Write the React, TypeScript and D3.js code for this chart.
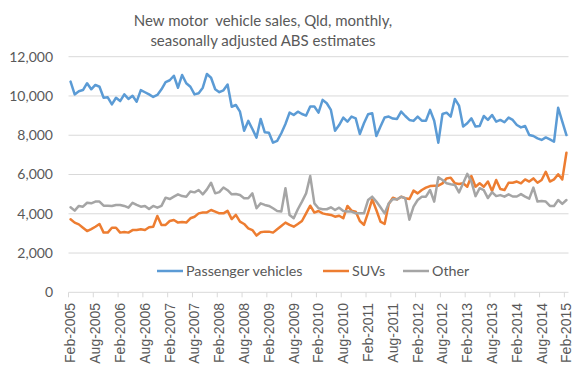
import React, { useRef, useEffect } from "react";
import * as d3 from "d3";

// monthly, Feb-2005 .. Feb-2015 (121 months)
const passenger = [
  10730, 10080, 10240, 10300, 10650, 10340, 10560, 10470, 9910, 9930, 9570, 9910,
  9740, 10080, 9850, 10010, 9710, 10300, 10190, 10080, 9950, 10050, 10340, 10710,
  10800, 11030, 10420, 11070, 10650, 10470, 10080, 10140, 10420, 11120, 10930, 10340,
  10190, 10290, 10580, 9450, 9540, 9200, 8230, 8730, 8320, 7880, 8830, 8150,
  8130, 7620, 7710, 8100, 8570, 9150, 9030, 9200, 9080, 9000, 9460, 9460,
  9150, 9800, 9630, 9290, 8230, 8520, 8900, 8690, 8950, 8860, 8060, 8610,
  9070, 9120, 7960, 8440, 8900, 8950, 8850, 8830, 9200, 8980, 8780, 8730,
  8950, 8740, 8740, 9290, 8740, 7620, 9080, 9150, 8950, 9850, 9510, 8440,
  8610, 8860, 8440, 8470, 8980, 8780, 9030, 8690, 8780, 8660, 8900, 8780,
  8520, 8400, 8470, 8010, 7960, 7840, 7760, 7890, 7790, 7670, 9400, 8690,
  8010,
];

const suvs = [
  3720, 3550, 3460, 3290, 3120, 3220, 3340, 3480, 3040, 3040, 3290, 3290,
  3040, 3070, 3040, 3170, 3170, 3210, 3170, 3310, 3340, 3890, 3430, 3430,
  3630, 3680, 3550, 3580, 3550, 3770, 3850, 4020, 4060, 4070, 4190, 4110,
  4020, 4020, 4150, 3730, 3940, 3600, 3480, 3260, 3170, 2890, 3060, 3090,
  3090, 3040, 3210, 3380, 3550, 3430, 3340, 3480, 3630, 4020, 4410, 4060,
  4140, 4020, 3970, 3940, 3850, 3900, 3770, 4400, 4160, 4110, 3630, 3430,
  4060, 4730, 4190, 3600, 3480, 4500, 4820, 4730, 4870, 4790, 4750, 5180,
  5040, 5210, 5330, 5410, 5430, 5430, 5550, 5800, 5840, 5550, 5520, 5550,
  5380, 5920, 5380, 5550, 5380, 5640, 5160, 5720, 5260, 5210, 5580, 5580,
  5640, 5550, 5750, 5640, 5800, 5580, 5720, 6140, 5640, 5750, 6010, 5750,
  7110,
];

const other = [
  4330, 4160, 4400, 4360, 4560, 4530, 4620, 4620, 4410, 4410, 4400, 4450,
  4450, 4400, 4310, 4560, 4450, 4360, 4400, 4240, 4400, 4310, 4400, 4820,
  4750, 4870, 4990, 4900, 4870, 5130, 5090, 5210, 4990, 5240, 5580, 5040,
  5100, 5340, 5200, 4990, 5010, 4960, 4790, 4790, 5040, 4280, 4530, 4450,
  4400, 4280, 4140, 4110, 5300, 3940, 3770, 4230, 4620, 5040, 5920, 4530,
  4280, 4230, 4230, 4330, 4190, 4310, 4140, 4110, 4110, 4020, 4020, 4020,
  4700, 4870, 4620, 4330, 4020, 4530, 4750, 4730, 4870, 4780, 3700, 4360,
  4700, 4870, 4870, 5210, 4620, 5860, 5720, 5550, 5500, 5470, 5090, 5550,
  6030, 5640, 4900, 5300, 5200, 4800, 5100, 4900, 4950, 4870, 4990, 4880,
  4880, 5000, 4870, 4770, 5330, 4620, 4650, 4620, 4400, 4400, 4700, 4500,
  4700,
];

const tickLabels = [
  "Feb-2005", "Aug-2005", "Feb-2006", "Aug-2006", "Feb-2007", "Aug-2007",
  "Feb-2008", "Aug-2008", "Feb-2009", "Aug-2009", "Feb-2010", "Aug-2010",
  "Feb-2011", "Aug-2011", "Feb-2012", "Aug-2012", "Feb-2013", "Aug-2013",
  "Feb-2014", "Aug-2014", "Feb-2015",
];

const yTicks = [0, 2000, 4000, 6000, 8000, 10000, 12000];

const seriesNames = ["Passenger vehicles", "SUVs", "Other"];
const seriesColors = ["#5B9BD5", "#ED7D31", "#A5A5A5"];

const titleLines = ["New motor  vehicle sales, Qld, monthly,", "seasonally adjusted ABS estimates"];

export default function App() {
  const ref = useRef<SVGSVGElement>(null);
  const width = 582;
  const height = 370;

  useEffect(() => {
    const svg = d3.select(ref.current);
    svg.selectAll("*").remove();

    const left = 68.5, right = 568.5, top = 56.7, bottom = 292.3;
    const textColor = "#595959";
    const gridColor = "#D9D9D9";
    const calibriLike = "Lato, 'Open Sans', sans-serif";

    const x = d3.scaleBand<number>()
      .domain(d3.range(passenger.length))
      .range([left, right]);
    const cx = (i: number) => (x(i) as number) + x.bandwidth() / 2;

    const y = d3.scaleLinear()
      .domain([0, 12000])
      .range([bottom, top]);

    svg.append("rect")
      .attr("width", width)
      .attr("height", height)
      .attr("fill", "white");

    // title
    svg.append("g")
      .selectAll("text")
      .data(titleLines)
      .enter().append("text")
      .attr("x", 263)
      .attr("y", (d, i) => 26 + i * 19.5)
      .attr("text-anchor", "middle")
      .attr("font-family", calibriLike)
      .attr("font-size", 15)
      .attr("fill", textColor)
      .style("white-space", "pre")
      .text(d => d);

    // gridlines
    svg.append("g")
      .selectAll("line")
      .data(yTicks.filter(d => d > 0))
      .enter().append("line")
      .attr("x1", left)
      .attr("x2", right)
      .attr("y1", d => y(d))
      .attr("y2", d => y(d))
      .attr("stroke", gridColor)
      .attr("stroke-width", 1);

    // y labels
    svg.append("g")
      .selectAll("text")
      .data(yTicks)
      .enter().append("text")
      .attr("x", 53)
      .attr("y", d => y(d))
      .attr("dy", "0.35em")
      .attr("text-anchor", "end")
      .attr("font-family", calibriLike)
      .attr("font-size", 14)
      .attr("fill", textColor)
      .text(d => d3.format(",")(d));

    // x axis line + ticks between categories
    const xAxis = svg.append("g");
    xAxis.append("line")
      .attr("x1", left)
      .attr("x2", right)
      .attr("y1", y(0))
      .attr("y2", y(0))
      .attr("stroke", gridColor)
      .attr("stroke-width", 1);

    const tickIdx = tickLabels.map((d, i) => i * 6);
    xAxis.selectAll("line.tick")
      .data(tickIdx)
      .enter().append("line")
      .attr("class", "tick")
      .attr("x1", d => x(d) as number)
      .attr("x2", d => x(d) as number)
      .attr("y1", y(0))
      .attr("y2", y(0) + 5)
      .attr("stroke", gridColor);

    xAxis.selectAll("text")
      .data(tickLabels)
      .enter().append("text")
      .attr("transform", (d, i) => `translate(${cx(i * 6)}, 303) rotate(-90)`)
      .attr("dy", "0.35em")
      .attr("text-anchor", "end")
      .attr("font-family", "'Liberation Sans', Arial, sans-serif")
      .attr("font-size", 14)
      .attr("fill", textColor)
      .text(d => d);

    // lines
    const line = d3.line<number>()
      .x((d, i) => cx(i))
      .y(d => y(d));

    svg.append("g")
      .selectAll("path")
      .data([passenger, suvs, other])
      .enter().append("path")
      .attr("d", d => line(d))
      .attr("fill", "none")
      .attr("stroke", (d, i) => seriesColors[i])
      .attr("stroke-width", 2.5)
      .attr("stroke-linejoin", "round")
      .attr("stroke-linecap", "round");

    // legend
    const legendX = [157, 323, 403];
    const legend = svg.append("g")
      .selectAll("g")
      .data(seriesNames)
      .enter().append("g")
      .attr("transform", (d, i) => `translate(${legendX[i]}, 271)`);

    legend.append("line")
      .attr("x1", 0)
      .attr("x2", 26)
      .attr("stroke", (d, i) => seriesColors[i])
      .attr("stroke-width", 2.5);

    legend.append("text")
      .attr("x", 29)
      .attr("dy", "0.35em")
      .attr("font-family", calibriLike)
      .attr("font-size", 14.3)
      .attr("fill", textColor)
      .text(d => d);
  }, []);

  return (
    <svg
      ref={ref}
      width={width}
      height={height}
      style={{ position: "absolute", left: 0, top: 0 }}
    />
  );
}
